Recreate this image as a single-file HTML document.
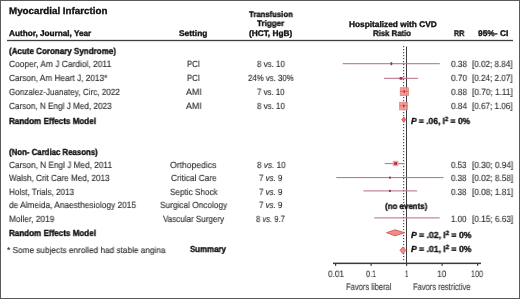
<!DOCTYPE html>
<html><head><meta charset="utf-8"><style>
html,body{margin:0;padding:0;background:#fff}
#c{position:relative;width:520px;height:299px;overflow:hidden;background:#fff;font-family:"Liberation Sans",sans-serif}
.t{position:absolute;white-space:nowrap;transform-origin:0 0;will-change:transform;text-rendering:geometricPrecision}
.r{-webkit-text-stroke:0.15px currentColor}
.b{-webkit-text-stroke:0.35px currentColor}
sup{font-size:70%;vertical-align:0;position:relative;top:-0.45em}
#fr{position:absolute;left:0;top:0;width:518px;height:297px;border:1px solid #5a5a5a}
svg{position:absolute;left:0;top:0}
</style></head><body><div id="c">
<svg width="520" height="299" viewBox="0 0 520 299">
<rect x="7" y="39.85" width="506" height="1.3" fill="#3e3e3e"/>
<rect x="403" y="46" width="1.2" height="1.2" fill="#505050"/>
<rect x="403" y="49" width="1.2" height="1.2" fill="#505050"/>
<rect x="403" y="52" width="1.2" height="1.2" fill="#505050"/>
<rect x="403" y="55" width="1.2" height="1.2" fill="#505050"/>
<rect x="403" y="58" width="1.2" height="1.2" fill="#505050"/>
<rect x="403" y="61" width="1.2" height="1.2" fill="#505050"/>
<rect x="403" y="64" width="1.2" height="1.2" fill="#505050"/>
<rect x="403" y="67" width="1.2" height="1.2" fill="#505050"/>
<rect x="403" y="70" width="1.2" height="1.2" fill="#505050"/>
<rect x="403" y="73" width="1.2" height="1.2" fill="#505050"/>
<rect x="403" y="76" width="1.2" height="1.2" fill="#505050"/>
<rect x="403" y="79" width="1.2" height="1.2" fill="#505050"/>
<rect x="403" y="82" width="1.2" height="1.2" fill="#505050"/>
<rect x="403" y="85" width="1.2" height="1.2" fill="#505050"/>
<rect x="403" y="88" width="1.2" height="1.2" fill="#505050"/>
<rect x="403" y="91" width="1.2" height="1.2" fill="#505050"/>
<rect x="403" y="94" width="1.2" height="1.2" fill="#505050"/>
<rect x="403" y="97" width="1.2" height="1.2" fill="#505050"/>
<rect x="403" y="100" width="1.2" height="1.2" fill="#505050"/>
<rect x="403" y="103" width="1.2" height="1.2" fill="#505050"/>
<rect x="403" y="106" width="1.2" height="1.2" fill="#505050"/>
<rect x="403" y="109" width="1.2" height="1.2" fill="#505050"/>
<rect x="403" y="112" width="1.2" height="1.2" fill="#505050"/>
<rect x="403" y="115" width="1.2" height="1.2" fill="#505050"/>
<rect x="403" y="118" width="1.2" height="1.2" fill="#505050"/>
<rect x="403" y="121" width="1.2" height="1.2" fill="#505050"/>
<rect x="403" y="124" width="1.2" height="1.2" fill="#505050"/>
<rect x="403" y="127" width="1.2" height="1.2" fill="#505050"/>
<rect x="403" y="130" width="1.2" height="1.2" fill="#505050"/>
<rect x="403" y="133" width="1.2" height="1.2" fill="#505050"/>
<rect x="403" y="136" width="1.2" height="1.2" fill="#505050"/>
<rect x="403" y="139" width="1.2" height="1.2" fill="#505050"/>
<rect x="403" y="142" width="1.2" height="1.2" fill="#505050"/>
<rect x="403" y="145" width="1.2" height="1.2" fill="#505050"/>
<rect x="403" y="148" width="1.2" height="1.2" fill="#505050"/>
<rect x="403" y="151" width="1.2" height="1.2" fill="#505050"/>
<rect x="403" y="154" width="1.2" height="1.2" fill="#505050"/>
<rect x="403" y="157" width="1.2" height="1.2" fill="#505050"/>
<rect x="403" y="160" width="1.2" height="1.2" fill="#505050"/>
<rect x="403" y="163" width="1.2" height="1.2" fill="#505050"/>
<rect x="403" y="166" width="1.2" height="1.2" fill="#505050"/>
<rect x="403" y="169" width="1.2" height="1.2" fill="#505050"/>
<rect x="403" y="172" width="1.2" height="1.2" fill="#505050"/>
<rect x="403" y="175" width="1.2" height="1.2" fill="#505050"/>
<rect x="403" y="178" width="1.2" height="1.2" fill="#505050"/>
<rect x="403" y="181" width="1.2" height="1.2" fill="#505050"/>
<rect x="403" y="184" width="1.2" height="1.2" fill="#505050"/>
<rect x="403" y="187" width="1.2" height="1.2" fill="#505050"/>
<rect x="403" y="190" width="1.2" height="1.2" fill="#505050"/>
<rect x="403" y="193" width="1.2" height="1.2" fill="#505050"/>
<rect x="403" y="196" width="1.2" height="1.2" fill="#505050"/>
<rect x="403" y="199" width="1.2" height="1.2" fill="#505050"/>
<rect x="403" y="202" width="1.2" height="1.2" fill="#505050"/>
<rect x="403" y="205" width="1.2" height="1.2" fill="#505050"/>
<rect x="403" y="208" width="1.2" height="1.2" fill="#505050"/>
<rect x="403" y="211" width="1.2" height="1.2" fill="#505050"/>
<rect x="403" y="214" width="1.2" height="1.2" fill="#505050"/>
<rect x="403" y="217" width="1.2" height="1.2" fill="#505050"/>
<rect x="403" y="220" width="1.2" height="1.2" fill="#505050"/>
<rect x="403" y="223" width="1.2" height="1.2" fill="#505050"/>
<rect x="403" y="226" width="1.2" height="1.2" fill="#505050"/>
<rect x="403" y="229" width="1.2" height="1.2" fill="#505050"/>
<rect x="403" y="232" width="1.2" height="1.2" fill="#505050"/>
<rect x="403" y="235" width="1.2" height="1.2" fill="#505050"/>
<rect x="403" y="238" width="1.2" height="1.2" fill="#505050"/>
<rect x="403" y="241" width="1.2" height="1.2" fill="#505050"/>
<rect x="403" y="244" width="1.2" height="1.2" fill="#505050"/>
<rect x="403" y="247" width="1.2" height="1.2" fill="#505050"/>
<rect x="403" y="250" width="1.2" height="1.2" fill="#505050"/>
<rect x="403" y="253" width="1.2" height="1.2" fill="#505050"/>
<rect x="403" y="256" width="1.2" height="1.2" fill="#505050"/>
<rect x="403" y="259" width="1.2" height="1.2" fill="#505050"/>
<rect x="406" y="46.5" width="1" height="219" fill="#3c3c3c"/>
<rect x="342.7" y="63.2" width="97.10000000000002" height="1" fill="#b66c80"/>
<rect x="384.0" y="77.8" width="34.10000000000002" height="1" fill="#b66c80"/>
<rect x="390.6" y="62.2" width="1.6" height="3" fill="#8a3048"/>
<rect x="399.6" y="77.1" width="2.8" height="2.6" fill="#a02848"/>
<rect x="384.8" y="163.1" width="19.599999999999966" height="1" fill="#b66c80"/>
<rect x="336.3" y="177.1" width="107.19999999999999" height="1" fill="#b66c80"/>
<rect x="363.4" y="190.4" width="53.700000000000045" height="1" fill="#b66c80"/>
<rect x="374.2" y="217.4" width="65.5" height="1" fill="#b66c80"/>
<rect x="392.8" y="160.8" width="5.6" height="5.4" fill="#f2a2a6"/>
<rect x="394.2" y="162.2" width="2.8" height="2.6" fill="#a82848"/>
<rect x="389" y="176.6" width="1.8" height="2" fill="#8a3048"/>
<rect x="389" y="189.9" width="1.8" height="2" fill="#8a3048"/>
<rect x="333" y="262.6" width="148" height="1.5" fill="#3a3a3a"/>
<rect x="335.0" y="263" width="1.2" height="2.8" fill="#3a3a3a"/>
<rect x="370.5" y="263" width="1.2" height="2.8" fill="#3a3a3a"/>
<rect x="406.0" y="263" width="1.2" height="2.8" fill="#3a3a3a"/>
<rect x="441.5" y="263" width="1.2" height="2.8" fill="#3a3a3a"/>
<rect x="477.0" y="263" width="1.2" height="2.8" fill="#3a3a3a"/>
<rect x="400.2" y="87.7" width="8.4" height="8.0" fill="#f29488" fill-opacity="0.9" stroke="#e27a7a" stroke-width="0.6"/>
<rect x="399.6" y="102.2" width="7.8" height="7.7" fill="#f29488" fill-opacity="0.9" stroke="#e27a7a" stroke-width="0.6"/>
<rect x="399.8" y="90.9" width="9" height="1" fill="#dd6a72"/>
<rect x="399.6" y="105.3" width="8.2" height="1" fill="#dd6a72"/>
<rect x="403.6" y="90.2" width="1.4" height="2.6" fill="#c02a44"/>
<rect x="403.0" y="104.6" width="1.4" height="2.6" fill="#c02a44"/>
<path d="M401.8 119.6 L403.8 117 L405.7 119.6 L403.8 122.3 Z" fill="#e87080" stroke="#d04c60" stroke-width="0.8"/>
<path d="M386.5 232.7 L395 229.8 L404.7 232.7 L395 235.9 Z" fill="#ef8c84" stroke="#d04c60" stroke-width="0.8"/>
<path d="M400 250.3 L402.9 247 L405.8 250.3 L402.9 253.6 Z" fill="#ef8c84" stroke="#d04c60" stroke-width="0.8"/>
</svg>
<div class="t b" style="left:9.20px;top:7px;font-size:9.6px;line-height:9.6px;font-weight:bold;color:#111;transform:scaleX(1.0198);">Myocardial Infarction</div>
<div class="t b" style="left:8.90px;top:30px;font-size:8.2px;line-height:8.2px;font-weight:bold;color:#111;transform:scaleX(0.9988);">Author, Journal, Year</div>
<div class="t b" style="left:179.20px;top:30px;font-size:8.2px;line-height:8.2px;font-weight:bold;color:#111;transform:scaleX(1.0222);">Setting</div>
<div class="t b" style="left:249.00px;top:11px;font-size:8.2px;line-height:8.2px;font-weight:bold;color:#111;transform:scaleX(0.9435);">Transfusion</div>
<div class="t b" style="left:256.90px;top:20px;font-size:8.2px;line-height:8.2px;font-weight:bold;color:#111;transform:scaleX(0.9786);">Trigger</div>
<div class="t b" style="left:249.00px;top:30px;font-size:8.2px;line-height:8.2px;font-weight:bold;color:#111;transform:scaleX(1.0093);">(HCT, HgB)</div>
<div class="t b" style="left:348.50px;top:21px;font-size:8.2px;line-height:8.2px;font-weight:bold;color:#111;transform:scaleX(1.0151);">Hospitalized with CVD</div>
<div class="t b" style="left:372.80px;top:30px;font-size:8.2px;line-height:8.2px;font-weight:bold;color:#111;transform:scaleX(0.9500);">Risk Ratio</div>
<div class="t b" style="left:454.20px;top:30px;font-size:8.2px;line-height:8.2px;font-weight:bold;color:#111;transform:scaleX(0.8667);">RR</div>
<div class="t b" style="left:478.00px;top:30px;font-size:8.2px;line-height:8.2px;font-weight:bold;color:#111;transform:scaleX(1.0276);">95%- CI</div>
<div class="t b" style="left:9.40px;top:47px;font-size:8.8px;line-height:8.8px;font-weight:bold;color:#111;transform:scaleX(0.9111);">(Acute Coronary Syndrome)</div>
<div class="t r" style="left:9.20px;top:60px;font-size:9.0px;line-height:9.0px;color:#333;transform:scaleX(0.9339);">Cooper, Am J Cardiol, 2011</div>
<div class="t r" style="left:9.20px;top:74px;font-size:9.0px;line-height:9.0px;color:#333;transform:scaleX(0.9187);">Carson, Am Heart J, 2013*</div>
<div class="t r" style="left:9.20px;top:88px;font-size:9.0px;line-height:9.0px;color:#333;transform:scaleX(0.9008);">Gonzalez-Juanatey, Circ, 2022</div>
<div class="t r" style="left:9.20px;top:102px;font-size:9.0px;line-height:9.0px;color:#333;transform:scaleX(0.9080);">Carson, N Engl J Med, 2023</div>
<div class="t b" style="left:9.20px;top:117px;font-size:8.8px;line-height:8.8px;font-weight:bold;color:#111;transform:scaleX(0.9168);">Random Effects Model</div>
<div class="t r" style="left:186.70px;top:60px;font-size:9.0px;line-height:9.0px;color:#333;transform:scaleX(0.8643);">PCI</div>
<div class="t r" style="left:186.70px;top:74px;font-size:9.0px;line-height:9.0px;color:#333;transform:scaleX(0.8643);">PCI</div>
<div class="t r" style="left:185.50px;top:88px;font-size:9.0px;line-height:9.0px;color:#333;transform:scaleX(0.9800);">AMI</div>
<div class="t r" style="left:185.50px;top:102px;font-size:9.0px;line-height:9.0px;color:#333;transform:scaleX(0.9800);">AMI</div>
<div class="t r" style="left:256.70px;top:60px;font-size:9.0px;line-height:9.0px;color:#333;transform:scaleX(0.8839);">8 vs. 10</div>
<div class="t r" style="left:248.00px;top:74px;font-size:9.0px;line-height:9.0px;color:#333;transform:scaleX(0.8692);">24% vs. 30%</div>
<div class="t r" style="left:257.00px;top:88px;font-size:9.0px;line-height:9.0px;color:#333;transform:scaleX(0.8742);">7 vs. 10</div>
<div class="t r" style="left:256.70px;top:102px;font-size:9.0px;line-height:9.0px;color:#333;transform:scaleX(0.8839);">8 vs. 10</div>
<div class="t r" style="left:451.00px;top:60px;font-size:9.0px;line-height:9.0px;color:#333;transform:scaleX(0.9118);">0.38</div>
<div class="t r" style="left:451.00px;top:74px;font-size:9.0px;line-height:9.0px;color:#333;transform:scaleX(0.9118);">0.70</div>
<div class="t r" style="left:451.00px;top:88px;font-size:9.0px;line-height:9.0px;color:#333;transform:scaleX(0.9118);">0.88</div>
<div class="t r" style="left:451.00px;top:102px;font-size:9.0px;line-height:9.0px;color:#333;transform:scaleX(0.9118);">0.84</div>
<div class="t r" style="left:472.10px;top:60px;font-size:9.0px;line-height:9.0px;color:#333;transform:scaleX(0.9000);">[0.02; 8.84]</div>
<div class="t r" style="left:472.10px;top:74px;font-size:9.0px;line-height:9.0px;color:#333;transform:scaleX(0.9000);">[0.24; 2.07]</div>
<div class="t r" style="left:472.10px;top:88px;font-size:9.0px;line-height:9.0px;color:#333;transform:scaleX(0.9205);">[0.70; 1.11]</div>
<div class="t r" style="left:472.10px;top:102px;font-size:9.0px;line-height:9.0px;color:#333;transform:scaleX(0.9000);">[0.67; 1.06]</div>
<div class="t b" style="left:9.40px;top:148px;font-size:8.8px;line-height:8.8px;font-weight:bold;color:#111;transform:scaleX(0.8899);">(Non- Cardiac Reasons)</div>
<div class="t r" style="left:9.20px;top:161px;font-size:9.0px;line-height:9.0px;color:#333;transform:scaleX(0.9161);">Carson, N Engl J Med, 2011</div>
<div class="t r" style="left:9.20px;top:174px;font-size:9.0px;line-height:9.0px;color:#333;transform:scaleX(0.9081);">Walsh, Crit Care Med, 2013</div>
<div class="t r" style="left:9.20px;top:188px;font-size:9.0px;line-height:9.0px;color:#333;transform:scaleX(0.9042);">Holst, Trials, 2013</div>
<div class="t r" style="left:9.20px;top:201px;font-size:9.0px;line-height:9.0px;color:#333;transform:scaleX(0.9234);">de Almeida, Anaesthesiology 2015</div>
<div class="t r" style="left:9.20px;top:215px;font-size:9.0px;line-height:9.0px;color:#333;transform:scaleX(0.9245);">Moller, 2019</div>
<div class="t b" style="left:9.20px;top:229px;font-size:8.8px;line-height:8.8px;font-weight:bold;color:#111;transform:scaleX(0.9168);">Random Effects Model</div>
<div class="t r" style="left:7.00px;top:246px;font-size:8.6px;line-height:8.6px;color:#333;transform:scaleX(0.9588);">* Some subjects enrolled had stable angina</div>
<div class="t b" style="left:190.20px;top:245px;font-size:8.8px;line-height:8.8px;font-weight:bold;color:#111;transform:scaleX(0.8950);">Summary</div>
<div class="t r" style="left:170.00px;top:161px;font-size:9.0px;line-height:9.0px;color:#333;transform:scaleX(0.9563);">Orthopedics</div>
<div class="t r" style="left:170.50px;top:174px;font-size:9.0px;line-height:9.0px;color:#333;transform:scaleX(0.9224);">Critical Care</div>
<div class="t r" style="left:169.50px;top:188px;font-size:9.0px;line-height:9.0px;color:#333;transform:scaleX(0.9077);">Septic Shock</div>
<div class="t r" style="left:159.50px;top:201px;font-size:9.0px;line-height:9.0px;color:#333;transform:scaleX(0.9205);">Surgical Oncology</div>
<div class="t r" style="left:162.50px;top:215px;font-size:9.0px;line-height:9.0px;color:#333;transform:scaleX(0.8956);">Vascular Surgery</div>
<div class="t r" style="left:257.00px;top:161px;font-size:9.0px;line-height:9.0px;color:#333;transform:scaleX(0.9097);">8 <i>vs.</i> 10</div>
<div class="t r" style="left:259.30px;top:174px;font-size:9.0px;line-height:9.0px;color:#333;transform:scaleX(0.8808);">7 <i>vs.</i> 9</div>
<div class="t r" style="left:259.30px;top:188px;font-size:9.0px;line-height:9.0px;color:#333;transform:scaleX(0.8808);">7 <i>vs.</i> 9</div>
<div class="t r" style="left:259.30px;top:201px;font-size:9.0px;line-height:9.0px;color:#333;transform:scaleX(0.8808);">7 <i>vs.</i> 9</div>
<div class="t r" style="left:256.30px;top:215px;font-size:9.0px;line-height:9.0px;color:#333;transform:scaleX(0.8500);">8 <i>vs.</i> 9.7</div>
<div class="t r" style="left:451.30px;top:161px;font-size:9.0px;line-height:9.0px;color:#333;transform:scaleX(0.8824);">0.53</div>
<div class="t r" style="left:451.30px;top:174px;font-size:9.0px;line-height:9.0px;color:#333;transform:scaleX(0.8824);">0.38</div>
<div class="t r" style="left:451.30px;top:188px;font-size:9.0px;line-height:9.0px;color:#333;transform:scaleX(0.8824);">0.38</div>
<div class="t r" style="left:451.30px;top:215px;font-size:9.0px;line-height:9.0px;color:#333;transform:scaleX(0.8824);">1.00</div>
<div class="t r" style="left:472.10px;top:161px;font-size:9.0px;line-height:9.0px;color:#333;transform:scaleX(0.9156);">[0.30; 0.94]</div>
<div class="t r" style="left:472.10px;top:174px;font-size:9.0px;line-height:9.0px;color:#333;transform:scaleX(0.9156);">[0.02; 8.58]</div>
<div class="t r" style="left:472.10px;top:188px;font-size:9.0px;line-height:9.0px;color:#333;transform:scaleX(0.9156);">[0.08; 1.81]</div>
<div class="t r" style="left:472.10px;top:215px;font-size:9.0px;line-height:9.0px;color:#333;transform:scaleX(0.9156);">[0.15; 6.63]</div>
<div class="t b" style="left:410.90px;top:117px;font-size:8.8px;line-height:8.8px;font-weight:bold;color:#111;transform:scaleX(0.9581);"><i>P</i> = .06, I<sup>2</sup> = 0%</div>
<div class="t b" style="left:384.60px;top:202px;font-size:8.4px;line-height:8.4px;font-weight:bold;color:#111;transform:scaleX(0.9444);">(no events)</div>
<div class="t b" style="left:410.80px;top:231px;font-size:8.8px;line-height:8.8px;font-weight:bold;color:#111;transform:scaleX(0.9790);"><i>P</i> = .02, I<sup>2</sup> = 0%</div>
<div class="t b" style="left:410.80px;top:245px;font-size:8.8px;line-height:8.8px;font-weight:bold;color:#111;transform:scaleX(0.9790);"><i>P</i> = .01, I<sup>2</sup> = 0%</div>
<div class="t r" style="left:327.90px;top:269px;font-size:9.4px;line-height:9.4px;color:#444;transform:scaleX(0.8778);">0.01</div>
<div class="t r" style="left:365.80px;top:269px;font-size:9.4px;line-height:9.4px;color:#444;transform:scaleX(0.7769);">0.1</div>
<div class="t r" style="left:404.75px;top:269px;font-size:9.4px;line-height:9.4px;color:#444;transform:scaleX(0.6500);">1</div>
<div class="t r" style="left:437.31px;top:269px;font-size:9.4px;line-height:9.4px;color:#444;transform:scaleX(0.8889);">10</div>
<div class="t r" style="left:471.03px;top:269px;font-size:9.4px;line-height:9.4px;color:#444;transform:scaleX(0.7667);">100</div>
<div class="t r" style="left:345.80px;top:283px;font-size:9.6px;line-height:9.6px;color:#444;transform:scaleX(0.7895);">Favors liberal</div>
<div class="t r" style="left:413.20px;top:283px;font-size:9.6px;line-height:9.6px;color:#444;transform:scaleX(0.7863);">Favors restrictive</div>
<div id="fr"></div>
</div></body></html>
